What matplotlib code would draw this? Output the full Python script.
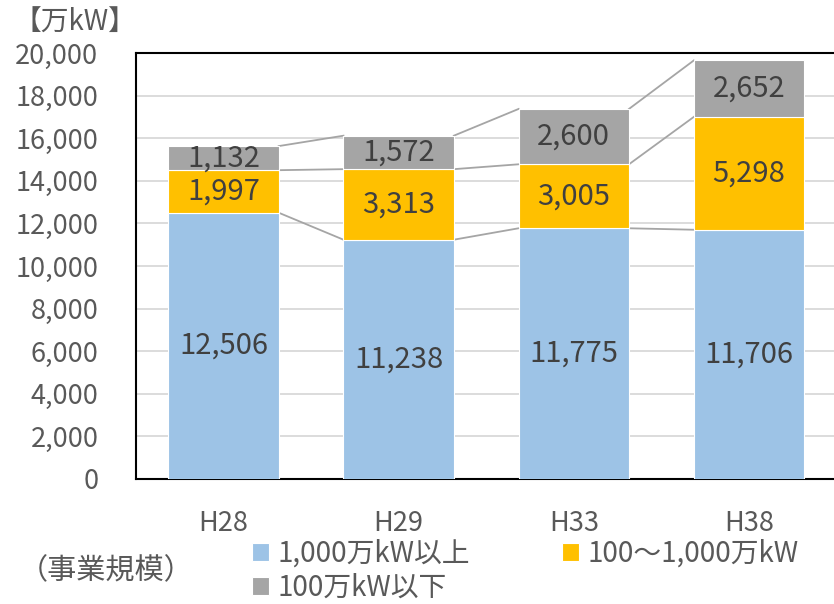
import numpy as np
from matplotlib import pyplot as plt

plt.rcParams['font.family'] = ['Noto Sans CJK JP', 'DejaVu Sans']

# データ
years = ['H28', 'H29', 'H33', 'H38']
big = [12506, 11238, 11775, 11706]      # 1,000万kW以上
mid = [1997, 3313, 3005, 5298]          # 100～1,000万kW
small = [1132, 1572, 2600, 2652]        # 100万kW以下
names = ['1,000万kW以上', '100～1,000万kW', '100万kW以下']
colors = ['#9DC3E6', '#FFC000', '#A5A5A5']

fig = plt.figure(figsize=(8.34, 6.04), dpi=100)
ax = fig.add_axes([0.163, 0.207, 0.84, 0.705])

x = np.arange(len(years))
w = 0.63
series = [np.array(big), np.array(mid), np.array(small)]
bottom = np.zeros(len(years))
bars = []
for vals, name, c in zip(series, names, colors):
    b = ax.bar(x, vals, w, bottom=bottom, color=c, edgecolor='white', linewidth=0.8,
               label=name, zorder=3)
    bars.append(b)
    for xi, v, b0 in zip(x, vals, bottom):
        ax.text(xi, b0 + v / 2, f'{v:,}', ha='center', va='center',
                fontsize=21, color='#404040', zorder=5)
    bottom = bottom + vals
    # 系列線
    for i in range(len(years) - 1):
        ax.plot([x[i] + w / 2, x[i + 1] - w / 2], [bottom[i], bottom[i + 1]],
                color='#A5A5A5', lw=1.3, zorder=2)

ax.set_xlim(-0.5, 3.5)
ax.set_ylim(0, 20000)
ax.set_yticks(range(0, 20001, 2000))
ax.set_yticklabels([f'{v:,}' for v in range(0, 20001, 2000)])
ax.set_xticks(x)
ax.set_xticklabels(years)
ax.tick_params(axis='both', length=0, labelsize=19.5, labelcolor='#595959')
ax.tick_params(axis='x', pad=22)
ax.tick_params(axis='y', pad=27)
ax.grid(axis='y', color='#D9D9D9', lw=1.3, zorder=0)
for s in ax.spines.values():
    s.set_color('black')
    s.set_linewidth(1.5)

fig.text(0.016, 0.963, '【万kW】', fontsize=20, color='#595959', va='center')
fig.text(0.022, 0.055, '（事業規模）', fontsize=21, color='#595959', va='center')

h = [bars[0], bars[2], bars[1]]
l = [names[0], names[2], names[1]]
fig.legend(h, l, ncol=2, loc='center left', bbox_to_anchor=(0.302, 0.055),
           frameon=False, fontsize=20, labelcolor='#595959',
           handlelength=0.61, handleheight=0.61, handletextpad=0.32,
           columnspacing=3.3, labelspacing=0.15, borderpad=0, borderaxespad=0)

fig.savefig('out.png', dpi=100)
